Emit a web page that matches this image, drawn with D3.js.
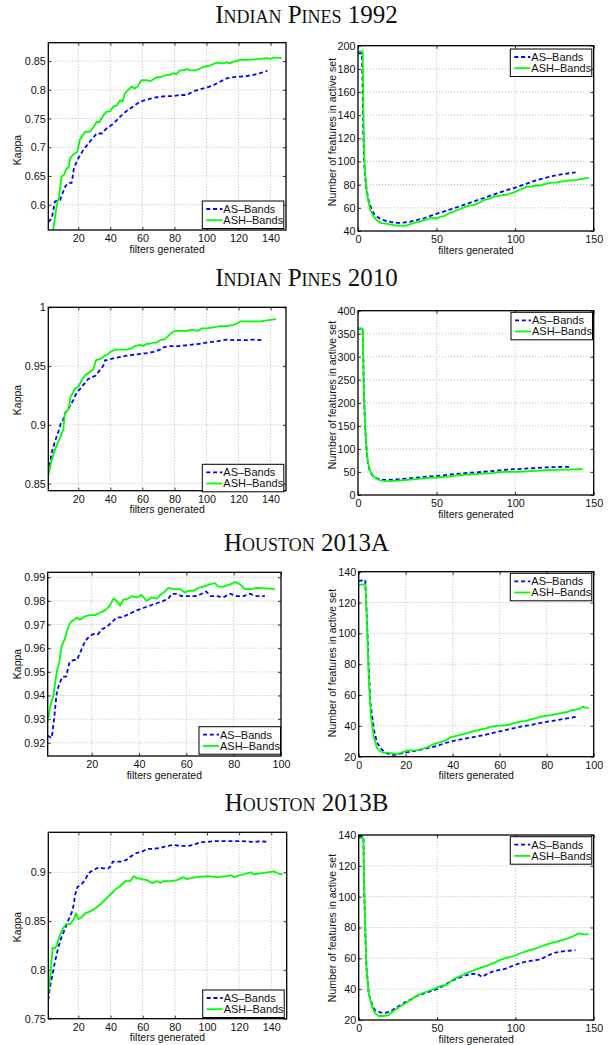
<!DOCTYPE html>
<html><head><meta charset="utf-8">
<script src="https://cdn.jsdelivr.net/npm/d3@7"></script>
<style>body{margin:0;background:#fff} svg{display:block}</style>
</head><body>
<svg id="c" width="614" height="1045"></svg>
<script>
// ---------- DATA ----------
const titles = ["Indian Pines 1992", "Indian Pines 2010", "Houston 2013A", "Houston 2013B"];
const seriesNames = ["AS–Bands", "ASH–Bands"];
const xlabel = "filters generated";
const ylabelKappa = "Kappa";
const ylabelFeat = "Number of features in active set";

// tick values
const xTicks150k = [20, 40, 60, 80, 100, 120, 140];
const xTicks150f = [0, 50, 100, 150];
const xTicks100k = [20, 40, 60, 80, 100];
const xTicks100f = [0, 20, 40, 60, 80, 100];
const yTicksIP92k = [0.6, 0.65, 0.7, 0.75, 0.8, 0.85];
const yTicksIP92f = [40, 60, 80, 100, 120, 140, 160, 180, 200];
const yTicksIP10k = [0.85, 0.9, 0.95, 1];
const yTicksIP10f = [0, 50, 100, 150, 200, 250, 300, 350, 400];
const yTicksHAk = [0.92, 0.93, 0.94, 0.95, 0.96, 0.97, 0.98, 0.99];
const yTicksHf = [20, 40, 60, 80, 100, 120, 140];
const yTicksHBk = [0.75, 0.8, 0.85, 0.9];

// Indian Pines 1992
const ip92KappaAS = [[1.3,0.570],[3.4,0.576],[5.5,0.606],[8.6,0.608],[11.7,0.631],[13.8,0.638],[15.9,0.638],[17.3,0.664],[20,0.681],[23.1,0.695],[27.3,0.710],[31.5,0.724],[34.6,0.724],[37.7,0.733],[41.9,0.741],[46,0.753],[50.1,0.763],[54.3,0.771],[58.4,0.779],[62.7,0.783],[66.8,0.786],[71,0.788],[75.1,0.789],[79.3,0.789],[83.4,0.791],[87.6,0.791],[91.7,0.797],[95.9,0.801],[100,0.804],[104.3,0.808],[108.4,0.814],[112.6,0.820],[116.8,0.822],[120.9,0.823],[125,0.824],[129.3,0.826],[133.4,0.829],[138,0.833]];
const ip92KappaASH = [[4.4,0.556],[6.5,0.597],[8,0.615],[9.6,0.649],[11,0.652],[12.7,0.663],[14,0.665],[14.8,0.680],[17,0.688],[19.4,0.692],[21,0.713],[24.2,0.727],[27.3,0.727],[29,0.733],[31.5,0.744],[33,0.743],[35.6,0.755],[37.7,0.762],[40,0.763],[41.9,0.771],[44,0.772],[46,0.782],[47.5,0.779],[49.1,0.794],[51.2,0.800],[53.4,0.806],[55,0.802],[57,0.806],[59.5,0.817],[62.7,0.817],[64.5,0.815],[66.8,0.818],[69,0.822],[71,0.822],[73,0.824],[75.1,0.826],[77,0.826],[79.3,0.829],[81,0.827],[83.4,0.834],[85.5,0.834],[87.6,0.836],[89.5,0.834],[91.7,0.834],[93.5,0.834],[95.9,0.837],[98,0.840],[100,0.841],[102,0.842],[104.3,0.845],[106.5,0.847],[108.4,0.847],[110.5,0.846],[112.6,0.848],[114.5,0.846],[116.8,0.849],[118.8,0.850],[120.9,0.852],[125,0.852],[129.3,0.853],[133.4,0.854],[137.5,0.855],[140,0.854],[142,0.856],[144,0.856],[147,0.855]];
const ip92FeatAS = [[0,193.5],[2.5,193.5],[3,160],[3.4,124],[4,97],[5,80],[5.7,74],[7,65],[8.9,58],[10.5,54],[12.1,52.4],[14,50.5],[16.3,49.3],[18.5,48.5],[20.6,47.8],[24.8,47],[29,47.2],[33.3,48],[37.6,49.5],[41.8,51],[46,53],[50.3,55],[54.5,56.7],[58.8,58.7],[63,60.5],[67.3,62.5],[71.5,64.5],[75.7,66.5],[80,68.5],[84.2,70.5],[88.5,72.5],[92.7,74.5],[97,76.2],[101.2,78],[105.5,80],[109.7,82],[114,84],[118.2,85.6],[122.4,87],[126.7,88.2],[130.9,89.2],[135.2,90],[138.5,90.6]];
const ip92FeatASH = [[0,195],[3,195],[3.3,160],[3.6,130],[4.1,100],[4.7,87],[5.7,73],[6.8,64],[7.9,58],[10,52.4],[11.5,50],[13.2,48],[15,46.8],[16.3,46.6],[18.5,46.2],[20.6,45.8],[22.5,45],[24.8,44.6],[27,44.6],[29,44.5],[31,44.8],[33.3,46],[35.5,46.8],[37.6,47.8],[39.8,48.2],[41.8,49.5],[44,50],[46,51.5],[48,51],[50.3,50.8],[52.5,52.4],[54.5,52.6],[56.5,54.2],[58.8,55.8],[61,56.8],[63,58],[65,59],[67.3,60.4],[69.5,61.5],[71.5,62.2],[73.5,62.4],[75.7,63.6],[78,65],[80,66.8],[82,67.2],[84.2,68.2],[86.3,69.6],[88.5,70.2],[90.6,70.6],[92.7,71.1],[94.8,71.4],[97,72.5],[99,73.2],[101.2,74.5],[103.3,75.8],[105.5,77],[107.5,78.5],[109.7,78.1],[112,79],[114,79.5],[116,79.2],[118.2,80.2],[120.3,81],[122.4,81.5],[124.6,81.8],[126.7,82],[128.8,82.6],[130.9,82.8],[133,83.5],[135.2,83.8],[137.3,84],[139.4,84.2],[141.5,84.8],[143.6,85.2],[146.8,86]];

// Indian Pines 2010
const ip10KappaAS = [[1.3,0.859],[3.4,0.876],[5,0.884],[6.5,0.890],[8,0.896],[9,0.901],[10.5,0.904],[11.7,0.910],[13,0.912],[14.8,0.916],[16.9,0.921],[18.5,0.926],[20,0.929],[21.5,0.931],[23.1,0.934],[24.5,0.936],[26.2,0.939],[28,0.940],[29.4,0.941],[31,0.942],[32.5,0.945],[34.6,0.948],[35.8,0.951],[36.7,0.955],[38,0.955],[39.9,0.956],[43,0.957],[47.1,0.958],[51.2,0.959],[56.4,0.960],[62.7,0.961],[66.8,0.962],[71,0.964],[73,0.966],[77.2,0.967],[83.4,0.967],[89.6,0.968],[95.9,0.969],[100,0.970],[106.3,0.971],[112.6,0.9725],[116.8,0.972],[120.9,0.972],[125,0.972],[129.3,0.9725],[135.5,0.972]];
const ip10KappaASH = [[1.3,0.857],[3.4,0.870],[5.5,0.879],[7,0.884],[8.6,0.889],[10.7,0.896],[11.2,0.904],[11.7,0.910],[13.8,0.913],[14.5,0.918],[15.2,0.924],[16.5,0.927],[17.9,0.931],[20,0.932],[22.1,0.938],[24.2,0.942],[27.3,0.945],[29.4,0.947],[30.2,0.951],[31.1,0.955],[33.6,0.956],[35,0.957],[36.7,0.959],[38.5,0.960],[39.9,0.962],[43,0.964],[46,0.964],[50.1,0.964],[53.3,0.965],[55.4,0.967],[58.5,0.968],[60.5,0.967],[62.7,0.969],[64.5,0.969],[66.8,0.970],[69,0.970],[71,0.972],[74,0.973],[77.2,0.977],[80.3,0.980],[84.5,0.980],[87.6,0.980],[90.7,0.981],[94.9,0.980],[97,0.982],[100,0.982],[104.3,0.983],[108.4,0.984],[112.6,0.984],[116.8,0.985],[118.8,0.986],[120.9,0.988],[127.2,0.988],[133.4,0.988],[138.6,0.989],[143.4,0.990]];
const ip10FeatAS = [[0,361],[3,361],[3.4,290],[3.8,220],[4.3,170],[5,120],[5.7,85],[6.5,65],[7.5,53],[8.5,46],[10,40],[12,36],[14,34],[16,33],[20,33],[25,34],[30,35.5],[35,37],[40,38.5],[45,40],[50,41.5],[55,43],[60,45],[65,46.5],[70,48],[75,49],[80,50.5],[85,52],[90,53.5],[95,55],[100,56],[105,57],[110,58],[115,59],[120,60],[125,60.5],[130,61],[135,61]];
const ip10FeatASH = [[0,361],[3,361],[3.4,290],[3.8,220],[4.3,170],[5,125],[5.7,90],[6.5,68],[7.5,55],[8.5,47],[10,40],[12,35],[14,32],[16,30.5],[20,30],[25,31],[30,32.5],[35,34],[40,35.5],[45,37],[50,38],[55,39.5],[60,41],[65,43],[70,44.5],[75,45.5],[80,46.5],[85,47.5],[90,49.5],[95,50],[100,50],[105,51],[110,52],[115,53],[120,54],[125,54.5],[130,55],[135,55],[140,56],[143,56]];

// Houston 2013A
const hAKappaAS = [[1.4,0.923],[3.1,0.922],[4.1,0.930],[5.2,0.941],[6.3,0.945],[7.7,0.948],[9.2,0.948],[10.6,0.954],[12.3,0.955],[13.7,0.955],[15.1,0.958],[17.2,0.963],[19,0.965],[20.7,0.966],[22.8,0.966],[24.2,0.968],[26.3,0.969],[28.5,0.971],[30.6,0.973],[32.7,0.973],[34.8,0.974],[36.9,0.975],[39,0.976],[41.8,0.977],[44.6,0.978],[47.5,0.979],[50.3,0.980],[52.4,0.981],[53.8,0.983],[56,0.983],[58,0.982],[60.8,0.982],[63.7,0.982],[66.5,0.983],[68.3,0.984],[70.3,0.982],[72.8,0.982],[75.6,0.9815],[78.5,0.983],[81.3,0.982],[84.1,0.982],[86.9,0.983],[89.7,0.982],[93.2,0.982]];
const hAKappaASH = [[1.4,0.929],[2.4,0.935],[3.8,0.940],[5.2,0.950],[6.3,0.954],[7.3,0.961],[8.7,0.964],[10.1,0.969],[11.1,0.971],[12.5,0.972],[13.7,0.973],[15.1,0.972],[17.2,0.9735],[19.3,0.974],[21.4,0.974],[23.5,0.975],[25.6,0.976],[27.7,0.978],[29.2,0.981],[30.6,0.980],[32,0.978],[33.4,0.9805],[35.5,0.981],[36.9,0.982],[39,0.9815],[41.1,0.9825],[43.2,0.980],[45.4,0.9815],[47.5,0.981],[48.9,0.9825],[51,0.984],[52.4,0.9855],[54.5,0.985],[57.3,0.985],[59.4,0.9835],[60.8,0.9843],[63,0.9843],[65,0.9855],[67.2,0.986],[70,0.987],[72.1,0.9875],[73.5,0.986],[75.6,0.986],[78.5,0.987],[80.6,0.988],[82.7,0.987],[84.8,0.985],[87.6,0.985],[89.7,0.9855],[93.9,0.9853],[97.5,0.985]];
const hAFeatAS = [[0,134],[2.8,134.6],[3.5,108.6],[4.3,76],[5,55],[6.4,38],[7.8,29],[9.9,24.5],[12,22.2],[14.2,21],[16.3,21.5],[19.1,22.5],[22,23.3],[24.8,24],[27.7,25],[30.5,26],[33.3,27],[36.2,28.5],[39,29.8],[41.8,30.7],[44.7,31.5],[47.5,32.3],[50.4,33.2],[53.2,34],[56,35],[58.9,36],[61.7,37],[64.5,38],[67.4,39],[70.2,39.8],[73,40.5],[75.9,41.5],[78.7,42.3],[81.6,43],[84.4,43.8],[87.2,44.5],[90,45.2],[93,46]];
const hAFeatASH = [[0,131.4],[2.8,131.8],[3.5,108.6],[4.3,69.7],[5.2,46],[6.4,33],[7.8,25.4],[9.9,22.8],[12,22.6],[14.2,22.2],[16.3,21.7],[18.4,22.8],[20.6,23.9],[24.8,24.3],[27,25],[29.1,26],[31.9,28.2],[34.8,29.5],[37,30.5],[39,32.5],[41,33.3],[43.3,34.2],[45.5,35],[47.5,36],[49.5,36.8],[51.8,37.6],[54,38.2],[56,39.3],[58,39.8],[60.3,40.2],[62.5,40.4],[64.5,41],[66.5,42],[68.8,42.8],[71,43.3],[73,44],[75,44.8],[77.3,45.8],[80,46.6],[82,47],[84.4,47.8],[86.5,48.4],[88.7,49],[90.5,50],[92.5,50.5],[94.3,51.3],[95.3,52.5],[96.5,51.8],[97.9,51.7]];

// Houston 2013B
const hBKappaAS = [[1.3,0.769],[2.3,0.782],[4,0.796],[5.4,0.808],[7.5,0.823],[9.6,0.834],[11.7,0.842],[13.8,0.851],[15.9,0.859],[17,0.866],[18,0.877],[19.4,0.885],[22.1,0.888],[24.2,0.892],[26.2,0.899],[28,0.901],[29.4,0.902],[32.5,0.905],[35.6,0.904],[38.7,0.904],[40,0.906],[41.4,0.911],[43.9,0.911],[47.1,0.911],[50.2,0.913],[53.3,0.917],[56.4,0.920],[59.5,0.921],[62.7,0.924],[66.8,0.924],[71,0.925],[75.1,0.927],[79.3,0.928],[83.4,0.927],[87.6,0.927],[91.7,0.928],[95.9,0.931],[100,0.931],[104.3,0.932],[112.6,0.932],[120.9,0.932],[129.3,0.931],[133.4,0.932],[138.6,0.931]];
const hBKappaASH = [[1.3,0.775],[2.8,0.799],[4,0.823],[5.4,0.822],[6.5,0.825],[8.2,0.834],[10.2,0.842],[12.4,0.847],[14.8,0.847],[16.9,0.851],[18.6,0.858],[20,0.852],[22.1,0.854],[24.2,0.858],[27.3,0.860],[30.4,0.863],[33.6,0.867],[36.7,0.872],[39.8,0.877],[42.9,0.882],[46,0.886],[49.2,0.891],[52.3,0.891],[54.4,0.896],[56.4,0.894],[59.5,0.893],[62.7,0.892],[65.8,0.889],[69,0.891],[71,0.889],[73.1,0.891],[77.2,0.891],[81.4,0.892],[85.5,0.895],[87.5,0.893],[89.7,0.894],[93.8,0.895],[100,0.896],[106.3,0.895],[112.6,0.896],[115,0.897],[116.8,0.895],[120.9,0.897],[125,0.899],[127.5,0.900],[129.3,0.898],[133.4,0.899],[137.5,0.900],[141.7,0.901],[144,0.899],[146.9,0.898]];
const hBFeatAS = [[0,139],[3,139],[3.6,100],[4.9,55],[6.4,37.3],[8.5,30],[10.6,26],[13.8,25],[17,24.6],[20.2,25.5],[24.5,28.4],[28.7,31],[33,33.2],[37.2,35.6],[41.5,37.2],[45.7,38.6],[50,40],[54.3,42.4],[58.5,45],[62.8,46.8],[67,48.5],[71.3,49.8],[75.5,50],[78.7,48],[81.9,49.8],[86.2,51.8],[90.4,52.5],[94.7,53.5],[98.9,55.5],[103.2,57],[107.4,58],[111.7,58.6],[116,59.3],[120.2,61.5],[124.5,63.5],[128.7,64.3],[133,64.8],[138.3,65.3]];
const hBFeatASH = [[0,138],[3,138],[3.6,100],[4.9,54.6],[6.4,37.3],[8.5,28.6],[10.6,24.3],[12.8,22.6],[16,22.6],[19.1,23.2],[22.3,26],[26.6,29],[30.9,31.5],[35.1,34.5],[39.4,37],[43.6,38.5],[47.9,40],[52.1,42],[56.4,43],[60.6,46.5],[64.9,48.5],[69.1,50.5],[73.4,52.2],[77.7,53.8],[81.9,55.3],[86.2,57],[90.4,59],[94.7,60.5],[98.9,61.5],[103.2,63.3],[107.4,64.7],[111.7,66],[116,67.5],[120.2,69],[124.5,70.3],[128.7,71.5],[133,72.8],[137.2,74.5],[140.4,76.2],[143.6,75.5],[146.8,75.6]];

// ---------- LAYOUT ----------
const titleY = [23, 286, 551, 811];
const panels = [
  {s:[ip92KappaAS, ip92KappaASH], xd:[1.3,149.6], yd:[0.556,0.882], box:[48.3,42.7,286,230], xt:xTicks150k, yt:yTicksIP92k, yl:ylabelKappa, labX:17, labY:150, leg:[202.3,201]},
  {s:[ip92FeatAS, ip92FeatASH], xd:[0,150], yd:[40,200], box:[358,45.7,593.7,231], xt:xTicks150f, yt:yTicksIP92f, yl:ylabelFeat, labX:332, labY:132, leg:[510.3,49]},
  {s:[ip10KappaAS, ip10KappaASH], xd:[1.3,149.6], yd:[0.844,1], box:[48.3,307.3,286,490.7], xt:xTicks150k, yt:yTicksIP10k, yl:ylabelKappa, labX:17, labY:400, leg:[202.3,464.3]},
  {s:[ip10FeatAS, ip10FeatASH], xd:[0,150], yd:[0,400], box:[358,310.7,593.7,495], xt:xTicks150f, yt:yTicksIP10f, yl:ylabelFeat, labX:332, labY:395, leg:[511,312.3]},
  {s:[hAKappaAS, hAKappaASH], xd:[1.4,100], yd:[0.9144,0.9921], box:[47.7,572.3,281,756], xt:xTicks100k, yt:yTicksHAk, yl:ylabelKappa, labX:17, labY:664, leg:[199,726.7]},
  {s:[hAFeatAS, hAFeatASH], xd:[0,100], yd:[20,140], box:[358.7,571.7,593.7,756.7], xt:xTicks100f, yt:yTicksHf, yl:ylabelFeat, labX:332, labY:663, leg:[510.3,573.3]},
  {s:[hBKappaAS, hBKappaASH], xd:[1.3,149.6], yd:[0.75,0.941], box:[48.3,832.3,286.7,1018.7], xt:xTicks150k, yt:yTicksHBk, yl:ylabelKappa, labX:17, labY:927, leg:[202.7,990]},
  {s:[hBFeatAS, hBFeatASH], xd:[0,150], yd:[20,140], box:[358.7,835,593.7,1020], xt:xTicks150f, yt:yTicksHf, yl:ylabelFeat, labX:332, labY:928, leg:[510.3,836.7]}
];

const colors = ["#0000ff", "#00ff00"];
const dashes = ["4,2.8", null];
const sans = "'Liberation Sans', Arial, Helvetica, sans-serif";

const svg = d3.select("#c");

titles.forEach((t, i) => {
  svg.append("text").attr("x", 306.5).attr("y", titleY[i])
    .attr("text-anchor", "middle")
    .style("font-family", "'Liberation Serif', 'Times New Roman', serif")
    .style("font-variant", "small-caps")
    .style("font-size", "25px").attr("fill", "#111").text(t);
});

panels.forEach((p, pi) => {
  const [x0, y0, x1, y1] = p.box;
  const x = d3.scaleLinear().domain(p.xd).range([x0, x1]);
  const y = d3.scaleLinear().domain(p.yd).range([y1, y0]);
  const g = svg.append("g");
  const cid = "clip" + pi;
  g.append("clipPath").attr("id", cid).append("rect")
    .attr("x", x0).attr("y", y0).attr("width", x1 - x0).attr("height", y1 - y0);

  // grid
  const grid = g.append("g").attr("stroke", "#a8a8a8").attr("stroke-width", 0.8).attr("stroke-dasharray", "1,2");
  p.xt.forEach(v => { const xx = x(v); if (xx > x0 + 1 && xx < x1 - 1) grid.append("line").attr("x1", xx).attr("x2", xx).attr("y1", y0).attr("y2", y1); });
  p.yt.forEach(v => { const yy = y(v); if (yy > y0 + 1 && yy < y1 - 1) grid.append("line").attr("x1", x0).attr("x2", x1).attr("y1", yy).attr("y2", yy); });

  // axes (ticks inward, labels outside)
  const xa = g.append("g").attr("transform", `translate(0,${y1})`)
    .call(d3.axisBottom(x).tickValues(p.xt).tickSize(-3).tickPadding(4.5).tickFormat(d => String(d)));
  const ya = g.append("g").attr("transform", `translate(${x0},0)`)
    .call(d3.axisLeft(y).tickValues(p.yt).tickSize(-3).tickPadding(2.5).tickFormat(d => String(d)));
  const xt = g.append("g").attr("transform", `translate(0,${y0})`)
    .call(d3.axisTop(x).tickValues(p.xt).tickSize(-3).tickFormat(""));
  const yr = g.append("g").attr("transform", `translate(${x1},0)`)
    .call(d3.axisRight(y).tickValues(p.yt).tickSize(-3).tickFormat(""));
  [xa, ya, xt, yr].forEach(a => {
    a.select(".domain").remove();
    a.selectAll("line").attr("stroke", "#000").attr("stroke-width", 0.8);
    a.selectAll("text").style("font-family", sans).style("font-size", "10.8px").attr("fill", "#111");
  });
  xa.selectAll("text").attr("dy", "0.7em");

  // series
  const line = d3.line().x(d => x(d[0])).y(d => y(d[1]));
  p.s.forEach((ser, si) => {
    g.append("path").datum(ser).attr("d", line).attr("clip-path", `url(#${cid})`)
      .attr("fill", "none").attr("stroke", colors[si]).attr("stroke-width", 1.8)
      .attr("stroke-dasharray", dashes[si]).attr("stroke-linejoin", "round");
  });

  // frame
  g.append("rect").attr("x", x0).attr("y", y0).attr("width", x1 - x0).attr("height", y1 - y0)
    .attr("fill", "none").attr("stroke", "#000").attr("stroke-width", 1.3);

  // labels
  g.append("text").attr("x", (x0 + x1) / 2).attr("y", y1 + 22.5).attr("text-anchor", "middle")
    .style("font-family", sans).style("font-size", "10.5px").attr("fill", "#111").text(xlabel);
  g.append("text").attr("transform", `translate(${p.labX},${p.labY}) rotate(-90)`)
    .attr("text-anchor", "middle").attr("dy", "0.35em")
    .style("font-family", sans).style("font-size", "10.5px").attr("fill", "#111").text(p.yl);

  // legend
  const [lx, ly] = p.leg;
  const lg = g.append("g");
  lg.append("rect").attr("x", lx).attr("y", ly).attr("width", 81.5).attr("height", 27.5)
    .attr("fill", "#fff").attr("stroke", "#000").attr("stroke-width", 1);
  seriesNames.forEach((nm, si) => {
    const cy = ly + 8 + si * 11.2;
    lg.append("line").attr("x1", lx + 4).attr("x2", lx + 20).attr("y1", cy).attr("y2", cy)
      .attr("stroke", colors[si]).attr("stroke-width", 1.8).attr("stroke-dasharray", dashes[si]);
    lg.append("text").attr("x", lx + 21).attr("y", cy).attr("dy", "0.36em")
      .style("font-family", sans).style("font-size", "11px").attr("fill", "#111").text(nm);
  });
});
</script>
</body></html>
